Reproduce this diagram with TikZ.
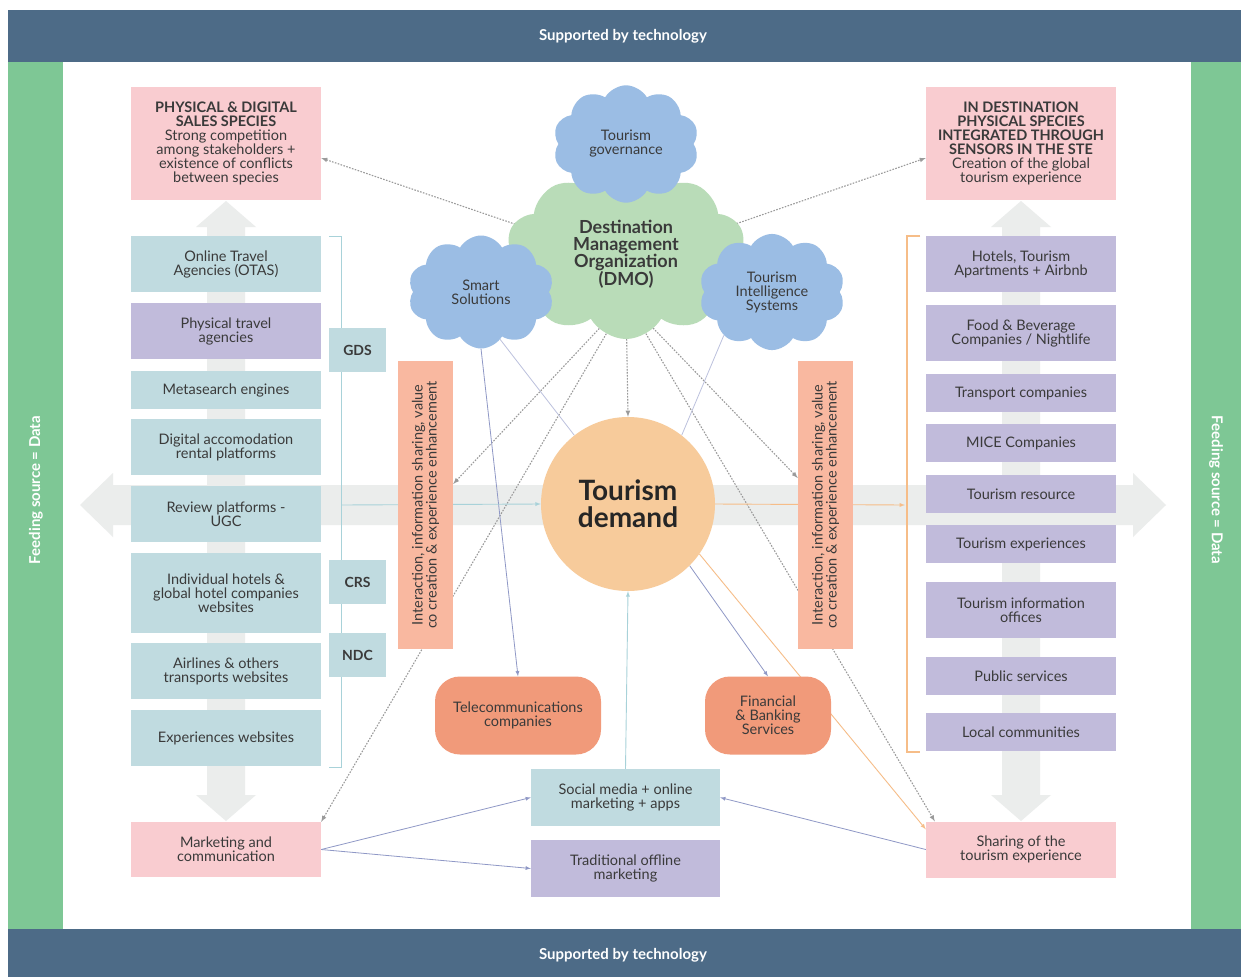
\documentclass[tikz,border=0pt]{standalone}
\usepackage{fontspec}
\setmainfont{Lato}
\usetikzlibrary{shapes.symbols}
\pgfdeclarelayer{back}
\pgfdeclarelayer{mid}
\pgfsetlayers{back,mid,main}

\definecolor{band}{HTML}{4D6B87}
\definecolor{feed}{HTML}{7EC795}
\definecolor{sky}{HTML}{C0DBE0}
\definecolor{lilac}{HTML}{C1BBDB}
\definecolor{blush}{HTML}{F9CCD0}
\definecolor{salmon}{HTML}{F9B8A0}
\definecolor{coral}{HTML}{F19A7A}
\definecolor{peach}{HTML}{F7CB9B}
\definecolor{cloudblue}{HTML}{9BBDE4}
\definecolor{dmogreen}{HTML}{B9DCB8}
\definecolor{ghost}{HTML}{EBEDEC}
\definecolor{ink}{HTML}{3A3A3A}
\definecolor{dotgrey}{HTML}{9A9A9A}
\definecolor{lavline}{HTML}{8F98C6}
\definecolor{skyline}{HTML}{A8D2D9}
\definecolor{peachline}{HTML}{F6BD88}

\newcommand{\boxfont}{\fontsize{14.5}{14}\selectfont}

\tikzset{
  stackbox/.style={minimum width=190pt, inner sep=0pt, align=center, text=ink, font=\boxfont},
  tagbox/.style={fill=sky, minimum width=57pt, minimum height=44pt, inner sep=0pt, text=ink, font=\fontsize{14}{14}\selectfont\bfseries},
  sidebox/.style={fill=salmon, rotate=90, minimum width=288pt, minimum height=55pt, inner sep=0pt, align=center, text=ink, font=\boxfont},
  blob/.style={cloud, cloud puffs=10, cloud puff arc=120, fill=cloudblue, minimum width=146pt, minimum height=113pt, inner sep=0pt, align=center, text=ink, font=\boxfont},
  roundbox/.style={fill=coral, rounded corners=25pt, minimum height=78pt, inner sep=0pt, align=center, text=ink, font=\boxfont},
  bandtext/.style={text=white, font=\fontsize{15}{15}\selectfont\bfseries},
  dots/.style={dotgrey, line width=1.1pt, dash pattern=on 1.6pt off 1.4pt},
  link/.style={lavline, line width=0.8pt},
}

\begin{document}
\begin{tikzpicture}[x=1pt,y=-1pt,>=latex]
\useasboundingbox (0,0) rectangle (1241,977);

% clouds round the DMO
\node[blob, fill=dmogreen, minimum width=241pt, minimum height=170pt, font=\fontsize{18}{17}\selectfont\bfseries] (dmo) at (626,254) {Destination\\Management\\Organization\\(DMO)};
\node[blob] (gov) at (626,144) {Tourism\\governance};
\node[blob] (smart) at (481,292) {Smart\\Solutions};
\node[blob] (tis) at (772,292) {Tourism\\Intelligence\\Systems};
\coordinate (dmotop) at (626,262);
\coordinate (dmohub) at (626,300);

\node[circle, fill=peach, minimum size=174pt, inner sep=0pt, align=center, text=black!85, font=\fontsize{28}{27}\selectfont\bfseries] (demand) at (628,504) {Tourism\\demand};

% left column
\node[stackbox, fill=blush, minimum height=113pt] (lpink) at (226,143.5) {\textbf{PHYSICAL \& DIGITAL}\\\textbf{SALES SPECIES}\\Strong competition\\among stakeholders +\\existence of conflicts\\between species};
\node[stackbox, fill=sky, minimum height=56pt] (ota) at (226,264) {Online Travel\\Agencies (OTAS)};
\node[stackbox, fill=lilac, minimum height=56pt] (pta) at (226,331) {Physical travel\\agencies};
\node[stackbox, fill=sky, minimum height=38pt] (meta) at (226,390) {Metasearch engines};
\node[stackbox, fill=sky, minimum height=56pt] (dar) at (226,447) {Digital accomodation\\rental platforms};
\node[stackbox, fill=sky, minimum height=56pt] (rev) at (226,514) {Review platforms -\\UGC};
\node[stackbox, fill=sky, minimum height=80pt] (ind) at (226,593) {Individual hotels \&\\global hotel companies\\websites};
\node[stackbox, fill=sky, minimum height=56pt] (air) at (226,671) {Airlines \& others\\transports websites};
\node[stackbox, fill=sky, minimum height=56pt] (exw) at (226,738) {Experiences websites};
\node[stackbox, fill=blush, minimum height=55pt] (mkt) at (226,849.5) {Marketing and\\communication};

\node[tagbox] (gds) at (357.5,350) {GDS};
\node[tagbox] (crs) at (357.5,582) {CRS};
\node[tagbox] (ndc) at (357.5,655) {NDC};

% right column
\node[stackbox, fill=blush, minimum height=113pt] (rpink) at (1021,143.5) {\textbf{IN DESTINATION}\\\textbf{PHYSICAL SPECIES}\\\textbf{INTEGRATED THROUGH}\\\textbf{SENSORS IN THE STE}\\Creation of the global\\tourism experience};
\node[stackbox, fill=lilac, minimum height=56pt] (hot) at (1021,264) {Hotels, Tourism\\Apartments + Airbnb};
\node[stackbox, fill=lilac, minimum height=56pt] (fnb) at (1021,333) {Food \& Beverage\\Companies / Nightlife};
\node[stackbox, fill=lilac, minimum height=38pt] (trn) at (1021,393) {Transport companies};
\node[stackbox, fill=lilac, minimum height=38pt] (mice) at (1021,443) {MICE Companies};
\node[stackbox, fill=lilac, minimum height=38pt] (res) at (1021,494) {Tourism resource};
\node[stackbox, fill=lilac, minimum height=38pt] (tex) at (1021,544) {Tourism experiences};
\node[stackbox, fill=lilac, minimum height=56pt] (tio) at (1021,610) {Tourism information\\offices};
\node[stackbox, fill=lilac, minimum height=38pt] (pub) at (1021,676) {Public services};
\node[stackbox, fill=lilac, minimum height=38pt] (loc) at (1021,732) {Local communities};
\node[stackbox, fill=blush, minimum height=56pt] (share) at (1021,849.5) {Sharing of the\\tourism experience};

% middle
\node[sidebox] (lsal) at (425.5,505) {Interaction, information sharing, value\\co creation \& experience enhancement};
\node[sidebox] (rsal) at (825.5,505) {Interaction, information sharing, value\\co creation \& experience enhancement};
\node[roundbox, minimum width=166pt] (telecom) at (518,715.5) {Telecommunications\\companies};
\node[roundbox, minimum width=126pt] (fin) at (768,715.5) {Financial\\\& Banking\\Services};
\node[stackbox, fill=sky, minimum width=189pt, minimum height=57pt] (social) at (625.5,797.5) {Social media + online\\marketing + apps};
\node[stackbox, fill=lilac, minimum width=189pt, minimum height=57pt] (trad) at (625.5,868.5) {Traditional offline\\marketing};

\node[bandtext] (topband) at (623,36) {Supported by technology};
\node[bandtext] (botband) at (623,955) {Supported by technology};
\node[bandtext, rotate=90] (lfeed) at (36,490) {Feeding source = Data};
\node[bandtext, rotate=-90] (rfeed) at (1216,490) {Feeding source = Data};

\coordinate (gdsbar) at (341,505);
\coordinate (hotbar) at (905,505);

\begin{pgfonlayer}{mid}
	\draw[skyline, line width=1pt] (329,236) -- (341,236) -- (341,767) -- (329,767);
	\draw[peachline, line width=1.3pt] (920,236) -- (907,236) -- (907,752) -- (920,752);

	\draw[dots,->] (dmotop) -- ([yshift=-14.5pt]lpink.east);
	\draw[dots,->] (dmotop) -- ([yshift=-14.5pt]rpink.west);
	\draw[dots,->] (dmohub) -- (demand.north);
	\draw[dots,->] (dmohub) -- ([yshift=21pt]lsal.south);
	\draw[dots,->] (dmohub) -- ([yshift=27pt]rsal.north);
	\draw[dots,->] (dmohub) -- (mkt.north east);
	\draw[dots,->] (dmohub) -- ([xshift=9pt]share.north west);

	\draw[link,->] (smart.south) -- (telecom.north);
	\draw[link, lavline!60] (smart.-68) -- (demand.128);
	\draw[link, lavline!60] (tis.222) -- (demand.52);
	\draw[link,->] (demand.-45) -- (fin.north);
	\draw[peachline, line width=0.9pt,->] (demand.-35) -- ([yshift=-8pt]share.north west);
	\draw[skyline, line width=0.9pt,->] (social.north) -- (demand.south);
	\draw[skyline, line width=0.9pt,->] (gdsbar) -- (demand.west);
	\draw[peachline, line width=0.9pt,->] (demand.east) -- (hotbar);
	\draw[link,->] (mkt.east) -- (social.west);
	\draw[link,->] (mkt.east) -- (trad.west);
	\draw[link,->] (share.west) -- (social.east);
\end{pgfonlayer}

\begin{pgfonlayer}{back}
	\fill[white] (0,0) rectangle (1241,977);
	\fill[band] (8,10) rectangle (1241,62);
	\fill[band] (8,929) rectangle (1241,977);
	\fill[feed] (8,62) rectangle (63,929);
	\fill[feed] (1191,62) rectangle (1241,929);
	% big grey arrows
	\fill[ghost] (80,505) -- (113,473) -- (113,485) -- (1133,485) -- (1133,473) -- (1166,505) -- (1133,537) -- (1133,525) -- (113,525) -- (113,537) -- cycle;
	\foreach \cx in {226,1021}
		\fill[ghost] (\cx,201) -- (\cx+30,227) -- (\cx+19,227) -- (\cx+19,795) -- (\cx+30,795) -- (\cx,821) -- (\cx-30,795) -- (\cx-19,795) -- (\cx-19,227) -- (\cx-30,227) -- cycle;
\end{pgfonlayer}
\end{tikzpicture}
\end{document}
